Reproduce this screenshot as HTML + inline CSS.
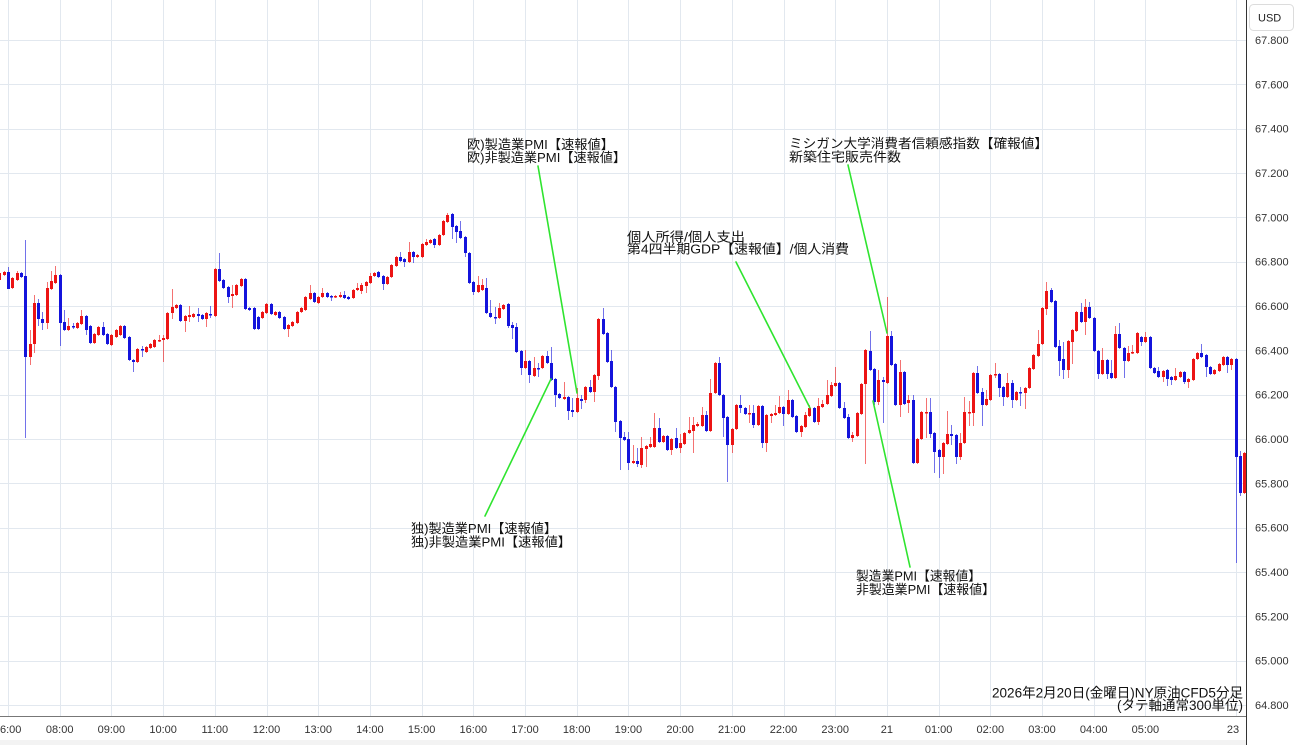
<!DOCTYPE html>
<html><head><meta charset="utf-8">
<style>
html,body{margin:0;padding:0;background:#fff;}
body{width:1300px;height:745px;overflow:hidden;}
svg{display:block;}
text{font-family:"Liberation Sans","Noto Sans CJK JP",sans-serif;}
</style></head>
<body>
<svg id="c" width="1300" height="745" viewBox="0 0 1300 745" xmlns="http://www.w3.org/2000/svg">
<rect x="0" y="0" width="1300" height="745" fill="#fff"/>
<rect x="0" y="740" width="1246" height="5" fill="#f3f3f3"/>
<g id="grid" stroke="#e2e8ef" stroke-width="1" shape-rendering="crispEdges"></g>
<g id="candles"></g>
<g stroke="#2fe42f" stroke-width="1.6" stroke-linecap="round">
<line x1="538" y1="166" x2="577" y2="393"/>
<line x1="485" y1="516" x2="551" y2="379"/>
<line x1="736" y1="262" x2="810" y2="408"/>
<line x1="848" y1="165" x2="887" y2="333"/>
<line x1="873" y1="401" x2="910" y2="567"/>
</g>
<g font-size="13" fill="#111">
<text x="467" y="149" textLength="147" lengthAdjust="spacingAndGlyphs">欧)製造業PMI【速報値】</text>
<text x="467" y="162" textLength="159" lengthAdjust="spacingAndGlyphs">欧)非製造業PMI【速報値】</text>
<text x="627" y="241.5" textLength="118" lengthAdjust="spacingAndGlyphs">個人所得/個人支出</text>
<text x="627" y="253.5" textLength="222" lengthAdjust="spacingAndGlyphs">第4四半期GDP【速報値】/個人消費</text>
<text x="789" y="148" textLength="259" lengthAdjust="spacingAndGlyphs">ミシガン大学消費者信頼感指数【確報値】</text>
<text x="789" y="161.5" textLength="112" lengthAdjust="spacingAndGlyphs">新築住宅販売件数</text>
<text x="411" y="533" textLength="146" lengthAdjust="spacingAndGlyphs">独)製造業PMI【速報値】</text>
<text x="411" y="546.5" textLength="160" lengthAdjust="spacingAndGlyphs">独)非製造業PMI【速報値】</text>
<text x="856" y="580.5" textLength="125" lengthAdjust="spacingAndGlyphs">製造業PMI【速報値】</text>
<text x="856" y="594" textLength="139" lengthAdjust="spacingAndGlyphs">非製造業PMI【速報値】</text>
<text x="992" y="697.5" textLength="251" lengthAdjust="spacingAndGlyphs" font-size="13.5">2026年2月20日(金曜日)NY原油CFD5分足</text>
<text x="1117" y="710" textLength="126" lengthAdjust="spacingAndGlyphs" font-size="13.5">(タテ軸通常300単位)</text>
</g>
<line x1="0" y1="716.5" x2="1246" y2="716.5" stroke="#777" stroke-width="1" shape-rendering="crispEdges"/>
<line x1="1246.5" y1="0" x2="1246.5" y2="745" stroke="#333" stroke-width="1" shape-rendering="crispEdges"/>
<rect x="1249.5" y="4.5" width="44" height="26" rx="4" fill="#fff" stroke="#dcdcdc"/>
<text x="1258" y="21.5" font-size="11" fill="#222">USD</text>
<g id="ylab" font-size="11" fill="#333"></g>
<g id="xlab" font-size="11" fill="#333"></g>
</svg>
<script>
(function(){
var NS="http://www.w3.org/2000/svg";
function el(tag,attrs,parent,txt){var e=document.createElementNS(NS,tag);for(var k in attrs)e.setAttribute(k,attrs[k]);if(txt!==undefined)e.textContent=txt;parent.appendChild(e);return e;}
var grid=document.getElementById('grid');
var ylab=document.getElementById('ylab');
var xlab=document.getElementById('xlab');
// horizontal grid + y labels
for(var k=0;k<=15;k++){
  var y=40+k*44.333;
  var yy=Math.round(y)+0.5;
  el('line',{x1:0,y1:yy,x2:1246,y2:yy},grid);
  var v=(67.8-k*0.2).toFixed(3);
  el('text',{x:1255,y:(y+4).toFixed(1)},ylab,v);
}
// vertical grid + x labels
var names=['6:00','08:00','09:00','10:00','11:00','12:00','13:00','14:00','15:00','16:00','17:00','18:00','19:00','20:00','21:00','22:00','23:00','21','01:00','02:00','03:00','04:00','05:00'];
for(var h=0;h<=22;h++){
  var x=8+h*51.7;
  var xx=Math.round(x)+0.5;
  el('line',{x1:xx,y1:0,x2:xx,y2:716},grid);
  if(h===0){el('text',{x:0,y:733},xlab,names[h]);}
  else{el('text',{x:x.toFixed(1),y:733,'text-anchor':'middle'},xlab,names[h]);}
}
el('line',{x1:1236.5,y1:0,x2:1236.5,y2:716},grid);
el('text',{x:1233,y:733,'text-anchor':'middle'},xlab,'23');

var D=[
"r 273 280","r 272 275","b 272 289 267 289","r 278 288","r 273 280 271","b 273 277","b 276 357 240 438","r 344 357 330 365","r 303 344 295 353","b 303 319 299 326",
"b 319 323 312 330","r 288 323 282 329","r 281 289 271","r 275 283 266","b 275 323 0 346","b 322 330 310","r 326 330 318","b 326 327 323 329","r 323 328","r 316 324 310",
"b 316 330 0 335","b 326 343","r 334 343","r 327 335","b 327 335 322","b 334 344","r 335 345","r 330 337","r 326 335","b 326 338",
"b 337 360","b 360 362 0 372","r 349 362","b 349 350 346 357","r 347 352","r 344 348","r 340 347","r 340 341 335 342","r 338 340 335 362","r 313 339",
"r 307 313 289 319","r 305 308","b 305 321","r 316 321 0 332","r 315 317 306 322","r 314 317","b 314 316 308 322","b 315 319","r 313 319 0 327","b 314 315 306 318",
"r 269 316","b 269 281 253","b 280 288","b 287 297 0 303","r 294 296 285 308","r 285 295","r 279 286","b 279 309","b 308 310","b 308 329",
"b 317 329","r 312 318","r 304 313","b 304 314","r 312 315","b 312 318","b 317 329","r 325 329 0 337","r 322 326","r 312 323",
"r 308 312","r 297 310","r 293 299 285","b 293 302","r 297 303","r 293 297 288","b 293 297","b 296 297 0 301","r 296 297","r 295 297 292",
"b 295 298 291 299","b 297 299","r 290 298","r 288 290 283","r 285 291 283 294","r 282 286 0 293","r 276 283 273","r 273 276","b 272 277","b 276 284 0 290",
"r 277 284","r 265 277","r 257 266","b 257 261 252","b 259 262 0 267","r 252 262 242","b 252 257 0 263","r 255 257","r 244 257","r 242 245 239",
"r 240 243","b 239 245 0 248","r 235 245","r 221 235","r 215 222 213","b 214 227 213 239","b 226 232 0 243","b 231 238 221","b 237 253 0 257","b 253 283",
"b 282 292 0 295","r 285 292 276","r 285 290 279","b 288 313 278","b 313 317 300","b 317 318 307 324","r 308 318 303","r 305 309","b 304 326 0 328","b 325 328 322 339",
"b 327 352 323","b 351 368 0 375","r 361 368 350","b 361 375 0 383","r 368 376 357","b 368 369 363 377","r 356 368","b 356 363 351","b 363 380 347","b 379 395 0 407",
"b 394 398","r 397 399 382","b 397 411 0 420","b 410 412 398 417","r 398 412 388","b 399 401 395 409","r 387 400 0 403","b 387 392 380","r 375 392 0 402","r 319 376 0 380",
"b 319 334 308","b 333 362","b 361 387 350","b 387 422 0 432","b 421 438 0 470","b 437 440 432","b 439 463 432 470","r 461 463 445","b 461 464 448 467","r 448 465 437 468",
"r 446 449 0 467","r 444 447 437","r 428 447 413","b 428 442 418","r 436 442","b 436 450","r 439 450 0 455","b 438 448 428","r 443 448 434 453","r 433 444",
"r 430 433 417","r 425 431 417 453","r 424 426 422","r 415 426 407","b 415 431 411","r 393 431 379","r 363 393","b 363 395 357","b 395 418 0 437","b 417 445 0 482",
"r 429 445 0 453","r 405 429","b 405 408 395 413","b 408 414","r 413 414 405 423","b 413 425 405 428","r 406 425","b 406 443 0 448","r 415 443 0 452","r 414 416 0 423",
"r 413 415 405","r 407 413 396","b 407 414 0 426","r 400 414 390","b 400 417","b 416 432","r 426 432 0 437","r 415 427 412","r 408 416 405","b 408 422",
"r 406 422 398 425","r 404 407 400","r 395 404 380","r 385 396 382","r 383 386 367","b 383 408","b 408 418 402","b 417 438 414","r 435 438 432 442","r 413 436",
"r 384 414","r 350 384 0 464","b 351 370 331","b 369 402 0 405","r 380 402 370 405","b 380 382 377 423","r 336 383 297","b 336 365 331","b 364 405","r 372 405 360 417",
"b 372 404","r 400 403 395 413","b 400 463 395","r 439 463","r 412 439","r 412 413 398 438","b 412 434 398 438","b 433 452 0 473","b 450 457 0 478","r 443 457 0 474",
"r 434 444 411","b 434 436 425 445","b 435 457 0 464","r 443 457 433 460","r 412 443 397","r 412 413 401 426","r 373 413 0 426","b 373 393 366","b 392 405 388 426","r 399 405 390",
"r 375 400","r 374 375 363 378","b 374 388 0 397","b 387 397 0 406","r 383 397 373","b 383 400 380 408","r 392 400","b 392 393 387 406","r 388 393 0 409","r 368 388",
"r 355 369","r 344 356 330","r 308 344","r 291 309 282 315","b 290 302 288","b 301 347","b 346 361 340 376","b 359 370 342 379","r 341 370 0 378","r 330 342 0 364",
"r 312 331","b 312 322 303","r 307 322 299 335","b 307 318 302","b 318 351","b 351 374 0 379","r 360 374 348","b 360 374 0 379","b 373 378 360","r 334 378 326",
"b 334 348 323","b 348 361 0 378","r 353 361 346","r 352 353 345","r 333 353","b 337 342 0 346","r 337 342 332","b 337 368","b 368 373","b 371 377 367",
"r 371 377 0 382","b 370 379 0 386","b 377 380 0 385","r 376 380 368","r 372 377","b 372 382 0 384","r 379 382 0 388","r 359 380","r 353 359","b 353 357 344",
"b 355 367 0 377","b 367 374","r 370 374","r 364 371","r 357 365","b 357 365 0 373","r 359 365 0 370","b 359 457 0 563","b 456 493 451 496","r 453 493"
];
var cg=document.getElementById('candles');
var RED="#ec1414",BLUE="#1414dc";
var clip=el('clipPath',{id:'pc'},el('defs',{},cg));
el('rect',{x:0,y:0,width:1246,height:716},clip);
var g=el('g',{'clip-path':'url(#pc)'},cg);
for(var i=0;i<D.length;i++){
  var p=D[i].split(' ');
  var col=p[0]==='r'?RED:BLUE;
  var t=+p[1],b=+p[2];
  var wt=p.length>3&&+p[3]>0?+p[3]:t-1;
  var wb=p.length>4&&+p[4]>0?+p[4]:b+1;
  var x=-0.616+4.308*i;
  var xc=Math.round(x)+0.5;
  el('line',{x1:xc,y1:wt,x2:xc,y2:wb,stroke:col,'stroke-width':1,'stroke-opacity':0.6},g);
  var hgt=Math.max(1.5,b-t);
  el('rect',{x:(xc-1.5),y:t,width:3,height:hgt,fill:col},g);
}
})();
</script>
</body></html>
